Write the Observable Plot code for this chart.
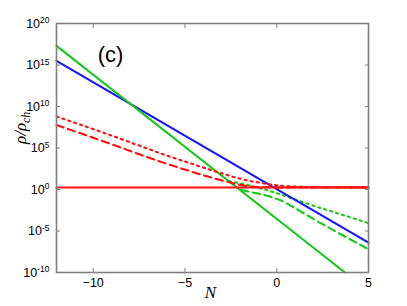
<!DOCTYPE html>
<html><head><meta charset="utf-8">
<script src="https://cdn.jsdelivr.net/npm/d3@7"></script>
<script src="https://cdn.jsdelivr.net/npm/@observablehq/plot@0.6"></script>
<style>body{margin:0;background:#fff} svg{display:block}</style>
</head><body><div id="chart"></div>
<script>
// tick values
const xTicks = [-10, -5, 0, 5];
const yTickExps = [-10, -5, 0, 5, 10, 15, 20];

// series: N values and log10(rho/rho_ch)
const blueN = [-12, 5];
const blueExp = [15.5, -6.4];
const greenSolidN = [-12, 3.72];
const greenSolidExp = [17.3, -10];
const redSolidN = [-12, 5];
const redSolidExp = [0.25, 0.25];
const redDottedN = [-12, -9, -6, -4.5, -3, -2, -1, 0, 1, 2, 5];
const redDottedExp = [8.8, 6.5, 4.1, 3.0, 1.95, 1.3, 0.85, 0.5, 0.35, 0.28, 0.25];
const redDashedN = [-12, -9, -6, -5, -4, -3, -2.2, -1.5, -1, 0, 5];
const redDashedExp = [7.78, 5.45, 3.1, 2.4, 1.72, 1.1, 0.65, 0.38, 0.3, 0.26, 0.25];
const greenDottedN = [-2.6, -2, -1.5, -1, -0.5, 0, 1, 2, 3, 4, 5];
const greenDottedExp = [1.0, 0.75, 0.5, 0.2, -0.1, -0.45, -1.2, -1.95, -2.65, -3.35, -4.05];
const greenDashedN = [-1.95, -1.4, -0.8, -0.3, 0.2, 1, 1.5, 2, 3, 4, 5];
const greenDashedExp = [-0.05, -0.32, -0.6, -0.9, -1.3, -2.25, -2.9, -3.55, -4.8, -6.0, -7.2];

const RED = "#ff1010", BLUE = "#1414ff", GREEN = "#18c818";
const toRows = (ns, es) => ns.map((n, i) => ({N: n, v: 10 ** es[i]}));

const series = [
  {rows: toRows(greenDottedN, greenDottedExp), stroke: GREEN, dash: "2.2,4"},
  {rows: toRows(greenDashedN, greenDashedExp), stroke: GREEN, dash: "7.5,4.5"},
  {rows: toRows(blueN, blueExp), stroke: BLUE, dash: null},
  {rows: toRows(greenSolidN, greenSolidExp), stroke: GREEN, dash: null},
  {rows: toRows(redSolidN, redSolidExp), stroke: RED, dash: null},
  {rows: toRows(redDashedN, redDashedExp), stroke: RED, dash: "7.5,4.5"},
  {rows: toRows(redDottedN, redDottedExp), stroke: RED, dash: "2.2,4"}
];

const yTicks = yTickExps.map(e => 10 ** e);
const FRAME = "#808080";
const SANS = "Liberation Sans, Arial, sans-serif";
const SERIF = "Liberation Serif, Times New Roman, serif";
const blank = () => " ";

const plot = Plot.plot({
  width: 407, height: 306,
  marginLeft: 56, marginRight: 39, marginTop: 23, marginBottom: 34,
  style: {fontFamily: SANS, fontSize: "12px", background: "#fff"},
  x: {domain: [-12, 5]},
  y: {type: "log", domain: [1e-10, 1e20]},
  marks: [
    ...series.map(s => Plot.line(s.rows, {x: "N", y: "v", stroke: s.stroke, strokeWidth: 2.1, strokeDasharray: s.dash, curve: "monotone-x"})),
    Plot.frame({stroke: FRAME, strokeWidth: 1.6}),
    Plot.axisX(xTicks, {anchor: "bottom", tickSize: 4, inset: 4, tickFormat: blank, label: null, stroke: FRAME}),
    Plot.axisX(xTicks, {anchor: "top", tickSize: 4, inset: 4, tickFormat: blank, label: null, stroke: FRAME}),
    Plot.axisY(yTicks, {anchor: "left", tickSize: 4, inset: 4, tickFormat: blank, label: null, stroke: FRAME}),
    Plot.axisY(yTicks, {anchor: "right", tickSize: 4, inset: 4, tickFormat: blank, label: null, stroke: FRAME}),
    Plot.axisX(xTicks, {anchor: "bottom", tickSize: 0, tickPadding: 6, label: null, fontSize: 12.5, fill: "#000"}),
    Plot.axisY(yTicks, {anchor: "left", tickSize: 0, tickPadding: 7, label: null, fontSize: 12.5, fill: "#000",
      tickFormat: d => "e" + Math.round(Math.log10(d))}),
    Plot.text(["(c)"], {frameAnchor: "top-left", dx: 54, dy: 23, fontSize: 22, textAnchor: "middle", fill: "#000"}),
    Plot.text(["N"], {frameAnchor: "bottom", dx: -2, dy: 25, fontSize: 17, fontStyle: "italic", fontFamily: SERIF, fill: "#000"}),
    Plot.text(["ρ/ρ"], {frameAnchor: "left", dx: -36, dy: -4, rotate: -90, fontSize: 17, fontStyle: "italic", fontFamily: SERIF, fill: "#000"})
  ]
});

document.getElementById("chart").appendChild(plot);
const svg = d3.select(plot);
svg.selectAll("text").each(function () {
  const t = d3.select(this);
  const s = t.text();
  if (s.trim() === "") { t.remove(); return; }
  if (/^e-?\d+$/.test(s)) {
    t.text("10");
    t.append("tspan").attr("dy", "-0.5em").attr("font-size", "8.5px").text(s.slice(1));
  } else if (s === "ρ/ρ") {
    t.append("tspan").attr("dy", "0.3em").attr("font-size", "12px").text("ch");
  }
});
</script></body></html>
